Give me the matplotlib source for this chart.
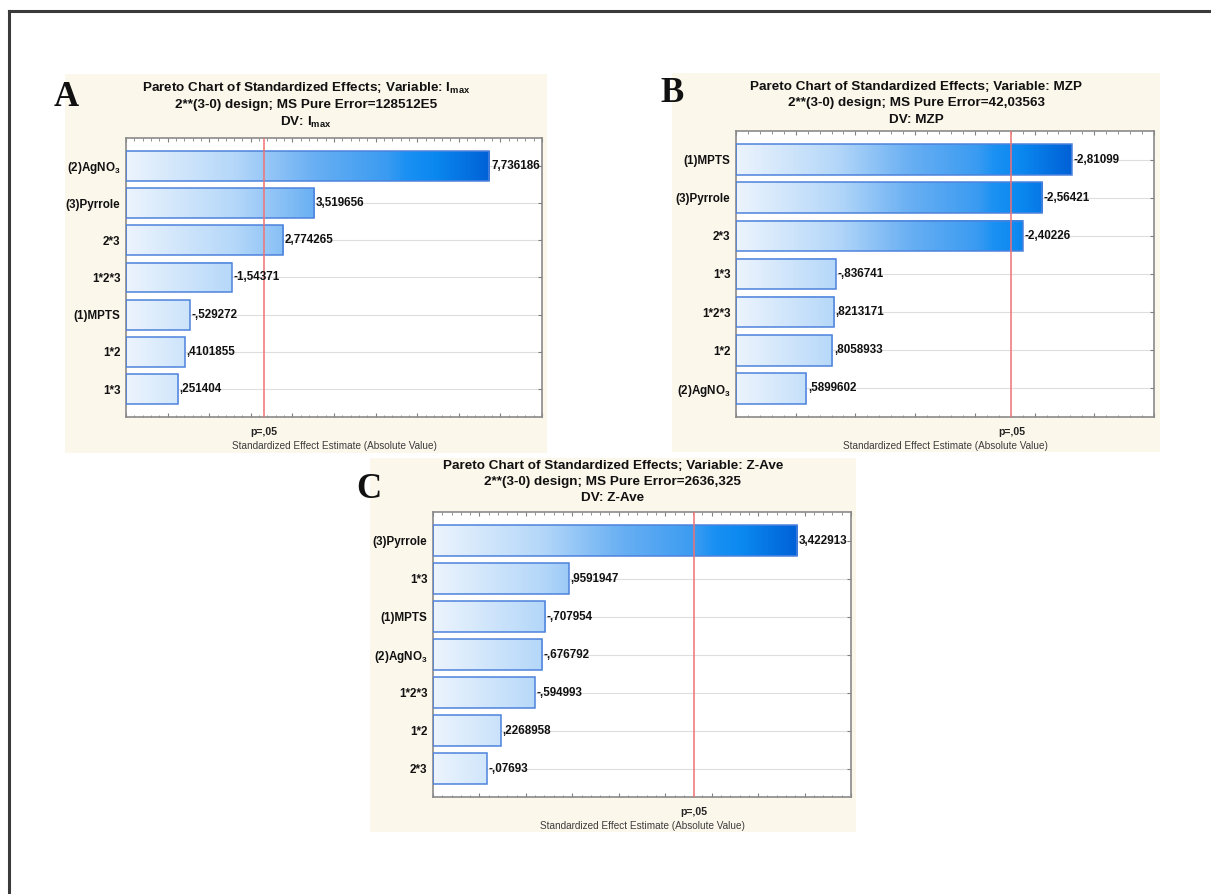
import numpy as np
import matplotlib
matplotlib.use("Agg")
import matplotlib.pyplot as plt
from matplotlib.colors import LinearSegmentedColormap
from matplotlib.ticker import MultipleLocator, AutoMinorLocator, NullFormatter
from matplotlib.lines import Line2D
from matplotlib.patches import Rectangle

plt.rcParams['font.family'] = ['Liberation Sans', 'DejaVu Sans']
plt.rcParams['mathtext.default'] = 'regular'

W, H = 1211, 894

# effects, in plotted (sorted) order, top to bottom
labels_A = ['(2)AgNO$_3$', '(3)Pyrrole', '2*3', '1*2*3', '(1)MPTS', '1*2', '1*3']
effects_A = [7.736186, 3.519656, 2.774265, -1.54371, -0.529272, 0.4101855, 0.251404]

labels_B = ['(1)MPTS', '(3)Pyrrole', '2*3', '1*3', '1*2*3', '1*2', '(2)AgNO$_3$']
effects_B = [-2.81099, -2.56421, -2.40226, -0.836741, 0.8213171, 0.8058933, 0.5899602]

labels_C = ['(3)Pyrrole', '1*3', '(1)MPTS', '(2)AgNO$_3$', '1*2*3', '1*2', '2*3']
effects_C = [3.422913, 0.9591947, -0.707954, -0.676792, -0.594993, 0.2268958, -0.07693]

titles = {
    'A': ['Pareto Chart of Standardized Effects; Variable: I$_{max}$',
          '2**(3-0) design; MS Pure Error=128512E5',
          'DV: I$_{max}$'],
    'B': ['Pareto Chart of Standardized Effects; Variable: MZP',
          '2**(3-0) design; MS Pure Error=42,03563',
          'DV: MZP'],
    'C': ['Pareto Chart of Standardized Effects; Variable: Z-Ave',
          '2**(3-0) design; MS Pure Error=2636,325',
          'DV: Z-Ave'],
}

t_crit = 2.306  # p=.05

cream = '#fcf7eb'
bar_cmap = LinearSegmentedColormap.from_list('statbar', [
    (0.0, '#ecf4fd'), (0.3, '#b4d7f9'), (0.52, '#68aff3'),
    (0.72, '#3a9bf1'), (0.77, '#1a91f3'), (0.85, '#0b88f0'), (1.0, '#0061d6')])


def fx(x):
    return x / W


def fy(y):
    return 1 - y / H


def fmt(v):
    s = '%.7g' % v
    s = s.replace('0.', '.', 1) if s.lstrip('-').startswith('0.') else s
    return s.replace('.', ',')


fig = plt.figure(figsize=(W / 100, H / 100), dpi=100)
fig.patch.set_facecolor('white')

# outer frame (top and left edges)
fig.add_artist(Line2D([fx(9), 1], [fy(11), fy(11)], color='#3a3a3a', lw=2.2))
fig.add_artist(Line2D([fx(9), fx(9)], [fy(11), 0], color='#3a3a3a', lw=2.2))


def panel(letter, labels, effects, box, axbox, xlim, major, letter_xy, title_y):
    # box: cream background (x0, y0, x1, y1) in pixels; axbox: plot area
    bx0, by0, bx1, by1 = box
    fig.add_artist(Rectangle((fx(bx0), fy(by1)), fx(bx1 - bx0), (by1 - by0) / H,
                             facecolor=cream, edgecolor='none', zorder=0))
    ax0, ay0, ax1, ay1 = axbox
    ax = fig.add_axes([fx(ax0), fy(ay1), fx(ax1 - ax0), (ay1 - ay0) / H])
    ax.set_facecolor('white')

    n = len(labels)
    ypos = np.arange(n)
    mags = np.abs(effects)
    xmin, xmax = xlim
    span = mags.max() - xmin
    h = 0.8
    for y in ypos:
        ax.axhline(y, color='#dedede', lw=0.8, zorder=1)
    for y, m, v in zip(ypos, mags, effects):
        frac = (m - xmin) / span
        grad = np.linspace(0, frac, 256).reshape(1, -1)
        ax.imshow(grad, cmap=bar_cmap, vmin=0, vmax=1, aspect='auto',
                  extent=[xmin, m, y + h / 2, y - h / 2], zorder=2,
                  interpolation='bilinear')
        ax.barh(y, m - xmin, left=xmin, height=h, fill=False,
                edgecolor='#4d82dc', lw=1.1, zorder=3)
        ax.text(m + (xmax - xmin) * 0.004, y, fmt(v), ha='left', va='center',
                fontsize=8.4, fontweight='bold', color='#111111', zorder=5,
                clip_on=False)

    ax.axvline(t_crit, color='#f07272', lw=1.1, zorder=4)
    ax.set_xlim(xmin, xmax)
    ax.set_ylim(n - 0.25, -0.75)
    ax.set_yticks(ypos)
    ax.set_yticklabels(labels, fontsize=8.4, fontweight='bold', color='#111111')
    ax.xaxis.set_major_locator(MultipleLocator(major))
    ax.xaxis.set_minor_locator(AutoMinorLocator(5))
    ax.xaxis.set_major_formatter(NullFormatter())
    ax.tick_params(axis='x', which='both', direction='in', top=True, bottom=True,
                   color='#808080')
    ax.tick_params(axis='x', which='major', length=3, width=0.8)
    ax.tick_params(axis='x', which='minor', length=1.8, width=0.6)
    ax.tick_params(axis='y', direction='in', left=True, right=True, length=3,
                   color='#808080', pad=4)
    for sp in ax.spines.values():
        sp.set_color('#8a8a8a')
        sp.set_linewidth(1.2)

    ax.text(t_crit, -0.035, 'p=,05', transform=ax.get_xaxis_transform(),
            ha='center', va='top', fontsize=7.6, fontweight='bold', color='#222222')
    ax.text(0.5, -0.085, 'Standardized Effect Estimate (Absolute Value)',
            transform=ax.transAxes, ha='center', va='top', fontsize=7.2,
            color='#3c3c3c')

    # three-line title, centred on the panel
    tx = (bx0 + bx1) / 2
    for line, ty in zip(titles[letter], title_y):
        fig.text(fx(tx), fy(ty), line, ha='center', va='center',
                 fontsize=9.7, fontweight='bold', color='#111111')
    fig.text(fx(letter_xy[0]), fy(letter_xy[1]), letter, ha='center', va='center',
             fontsize=25, fontweight='bold', family='Liberation Serif', color='#111111')
    return ax


panel('A', labels_A, effects_A, (65, 74, 547, 453), (126, 138, 542, 417),
      (-1, 9), 1, (66, 97), (88, 105, 122))
panel('B', labels_B, effects_B, (672, 73, 1160, 452), (736, 131, 1154, 417),
      (0, 3.5), 0.5, (672, 93), (87, 103, 120))
panel('C', labels_C, effects_C, (370, 458, 856, 832), (433, 512, 851, 797),
      (-0.5, 4), 0.5, (369, 490), (466, 482, 498))

fig.savefig('out.png', dpi=100)
